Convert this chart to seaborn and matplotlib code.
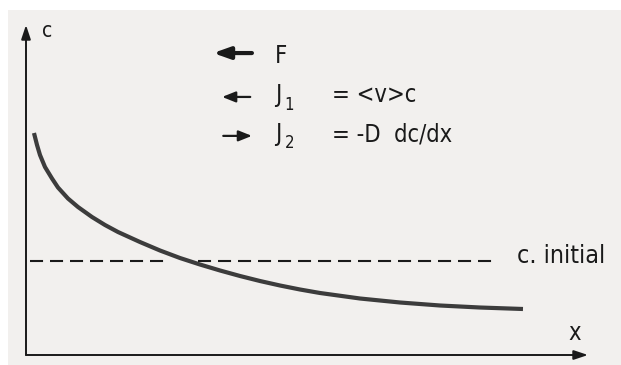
import matplotlib
matplotlib.use("Agg")
import matplotlib.pyplot as plt
from matplotlib.patches import Rectangle
import seaborn as sns
import pandas as pd

# Concentration profile c(x) after drift against diffusion
x_pos = [0.142, 0.196, 0.249, 0.338, 0.463, 0.569, 0.747, 0.925, 1.174, 1.406,
         1.637, 2.028, 2.384, 2.740, 3.096, 3.452, 3.808, 4.164, 4.520, 4.875,
         5.231, 5.943, 6.655, 7.367, 8.078, 8.843]
conc = [6.727, 6.364, 6.061, 5.697, 5.348, 5.076, 4.742, 4.485, 4.182, 3.939,
        3.727, 3.424, 3.167, 2.939, 2.742, 2.561, 2.394, 2.242, 2.106, 1.985,
        1.879, 1.712, 1.591, 1.500, 1.439, 1.394]

# Initial uniform concentration (dashed reference level)
c_initial = 2.85
initial_segments = [(0.07, 2.51), (3.06, 8.40)]

# Flux legend: arrow direction (-1 left, +1 right), symbol, subscript, right-hand side
flux_symbol = ["F", "J", "J"]
flux_sub = ["", "1", "2"]
flux_rhs = ["", "= <v>c", "= -D  dc/dx"]
flux_dir = [-1, -1, 1]

sns.set_theme(style="white")
plt.rcParams["font.family"] = ["DejaVu Sans"]
plt.rcParams["font.stretch"] = "condensed"
plt.rcParams["lines.scale_dashes"] = False

W, H = 621, 365
fig = plt.figure(figsize=(W / 100, H / 100), dpi=100)
fig.patch.set_facecolor("white")
# paper tone of the printed page
fig.patches.append(Rectangle((8 / W, 0), 1, (H - 10) / H, transform=fig.transFigure,
                             facecolor="#f2f0ee", edgecolor="none", zorder=-10))

ax = fig.add_axes([26 / W, 10 / H, (588 - 26) / W, (355 - 25) / H])
ax.set_zorder(1)
ax.set_facecolor("none")
ax.set_xlim(0, 10)
ax.set_ylim(0, 10)
ax.axis("off")

ink = "#1a1a1a"
txt = dict(color=ink, stretch="condensed", family="DejaVu Sans")

# axes with arrowheads
for tip in [(0, 10), (10, 0)]:
    ax.annotate("", xy=tip, xytext=(0, 0),
                arrowprops=dict(arrowstyle="-|>,head_length=0.6,head_width=0.2", lw=1.4,
                                color=ink, mutation_scale=14, shrinkA=0, shrinkB=0),
                annotation_clip=False)
ax.text(0.28, 9.64, "c", fontsize=15, ha="left", va="baseline", **txt)
ax.text(9.77, 0.45, "x", fontsize=17, ha="center", va="baseline", **txt)

# concentration curve
df = pd.DataFrame({"x": x_pos, "c": conc})
sns.lineplot(data=df, x="x", y="c", ax=ax, color="#3c3c3c", lw=3.0,
             solid_capstyle="butt", solid_joinstyle="round", legend=False)
ax.set_xlabel("")
ax.set_ylabel("")

# initial level
for x0, x1 in initial_segments:
    ax.plot([x0, x1], [c_initial, c_initial], color=ink, lw=1.5, dashes=(9.4, 5.0))
ax.text(8.74, 2.79, "c. initial", fontsize=18, ha="left", va="baseline", **txt)

# flux legend
rows_base = [8.85, 7.67, 6.48]
sub_base = [None, 7.42, 6.27]
arrow_y = [9.15, 7.82, 6.64]
arrow_lw = [3.0, 1.6, 1.6]
arrow_ms = [22, 16, 16]
head = ["-|>,head_length=0.45,head_width=0.16", "-|>,head_length=0.5,head_width=0.2",
        "-|>,head_length=0.5,head_width=0.2"]
for sym, sub, rhs, d, yb, ys, ya, lw, ms, hs in zip(flux_symbol, flux_sub, flux_rhs, flux_dir,
                                                    rows_base, sub_base, arrow_y, arrow_lw,
                                                    arrow_ms, head):
    if d < 0:
        xa, xb = (4.02, 3.33) if sym == "F" else (3.99, 3.49)
    else:
        xa, xb = 3.51, 4.02
    ax.annotate("", xy=(xb, ya), xytext=(xa, ya),
                arrowprops=dict(arrowstyle=hs, lw=lw, color=ink,
                                mutation_scale=ms, shrinkA=0, shrinkB=0))
    ax.text(4.43, yb, sym, fontsize=17, ha="left", va="baseline", **txt)
    if sub:
        ax.text(4.60, ys, sub, fontsize=12, ha="left", va="baseline", **txt)
    if rhs:
        ax.text(5.44, yb, rhs, fontsize=17, ha="left", va="baseline", **txt)

fig.savefig("out.png", dpi=100, facecolor=fig.get_facecolor())
